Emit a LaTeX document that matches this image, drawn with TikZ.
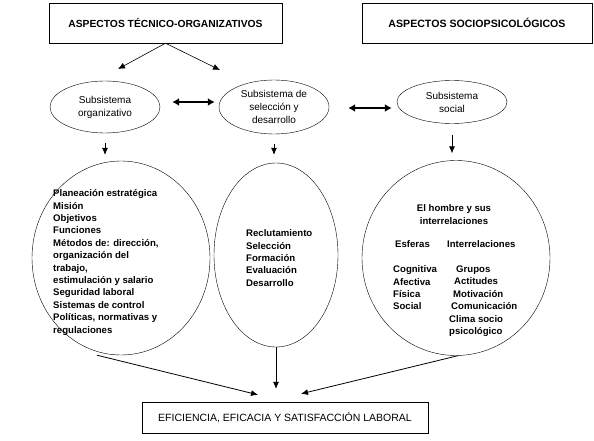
\documentclass[tikz,border=0pt]{standalone}
\usepackage{fontspec}
\setmainfont{Liberation Sans}
\usetikzlibrary{arrows.meta,positioning,shapes.geometric}

\begin{document}
\begin{tikzpicture}[>={Latex[length=7pt,width=6pt]},x=1pt,y=-1pt]
\tikzset{
 box/.style={draw,minimum height=40pt,align=center,font=\bfseries\fontsize{10.3}{12}\selectfont},
 sub/.style={draw,ellipse,minimum width=110pt,minimum height=52pt,inner sep=0pt,align=center,font=\fontsize{10}{13}\selectfont},
 big/.style={draw,ellipse,inner sep=0pt},
 lst/.style={inner sep=0pt,align=left,font=\bfseries\fontsize{9.6}{12.4}\selectfont},
 arrow/.style={->,semithick},
 dbl/.style={{Latex[length=7pt,width=8pt]}-{Latex[length=7pt,width=8pt]},line width=2.4pt}
}
\useasboundingbox (0,0) rectangle (594,441);
\node[box,minimum width=233pt] (a) at (165.5,23) {ASPECTOS TÉCNICO-ORGANIZATIVOS};
\node[box,minimum width=230pt,font=\bfseries\fontsize{10.6}{12}\selectfont] (b) at (477,23) {ASPECTOS SOCIOPSICOLÓGICOS};
\node[sub] (o) at (105,107) {Subsistema\\organizativo};
\node[sub,minimum height=54pt] (s) at (274,107) {Subsistema de\\selección y\\desarrollo};
\node[sub,minimum height=43pt] (so) at (452,102) {Subsistema\\social};
\node[big,minimum width=178pt,minimum height=194pt] (oc) at (121,258) {};
\node[big,minimum width=124pt,minimum height=184pt] (sc) at (276,255) {};
\node[big,minimum width=188pt,minimum height=195pt] (soc) at (456,258) {};
\node[draw,minimum width=286pt,minimum height=31pt,font=\fontsize{10.5}{12}\selectfont] (e) at (285,417.5) {EFICIENCIA, EFICACIA Y SATISFACCIÓN LABORAL};
\node[lst,anchor=north west] (ol) at (53,189.5) {Planeación estratégica\\Misión\\Objetivos\\Funciones\\Métodos de: dirección,\\organización del\\trabajo,\\estimulación y salario\\Seguridad laboral\\Sistemas de control\\Políticas, normativas y\\regulaciones};
\node[lst,anchor=north west] (sl) at (246,229.5) {Reclutamiento\\Selección\\Formación\\Evaluación\\Desarrollo};
\node[lst,anchor=north,align=center] (h) at (454,204.5) {El hombre y sus\\interrelaciones};
\node[lst,anchor=base west] (es) at (395,247.5) {Esferas};
\node[lst,anchor=base west] (in) at (447,247.5) {Interrelaciones};
\node[lst,anchor=north west] (cl) at (393,265.5) {Cognitiva\\Afectiva\\Física\\Social};
\foreach \t/\x [count=\i] in {Grupos/456,Actitudes/454,Motivación/453,Comunicación/451,Clima socio/449,psicológico/449}
  \node[lst,anchor=base west] (r\i) at (\x,{272.5+12.4*(\i-1)}) {\t};
\coordinate (t1) at (118,69);
\coordinate (t2) at (220,70);
\draw[arrow] (a.south) -- (t1);
\draw[arrow] (a.south) -- (t2);
\draw[dbl,shorten <=12pt,shorten >=4pt] ([yshift=5pt]o.east) -- ([yshift=5pt]s.west);
\draw[dbl,shorten <=19pt,shorten >=5pt] ([yshift=-1pt]s.east) -- ([yshift=-6pt]so.west);
\draw[arrow,shorten <=10pt,shorten >=6pt] (o.south) -- (o.south |- oc.north);
\draw[arrow,shorten <=10pt,shorten >=8pt] (s.south) -- (s.south |- sc.north);
\draw[arrow,shorten <=11pt,shorten >=7pt] (so.south) -- (so.south |- soc.north);
\draw[arrow,thick] ([xshift=-24pt]oc.south) -- ([xshift=-27pt,yshift=7pt]e.north);
\draw[arrow] (sc.south) -- ([yshift=13pt]sc.south |- e.north);
\draw[arrow,thick] ([xshift=2pt]soc.south) -- ([xshift=16pt,yshift=8pt]e.north);
\end{tikzpicture}
\end{document}
